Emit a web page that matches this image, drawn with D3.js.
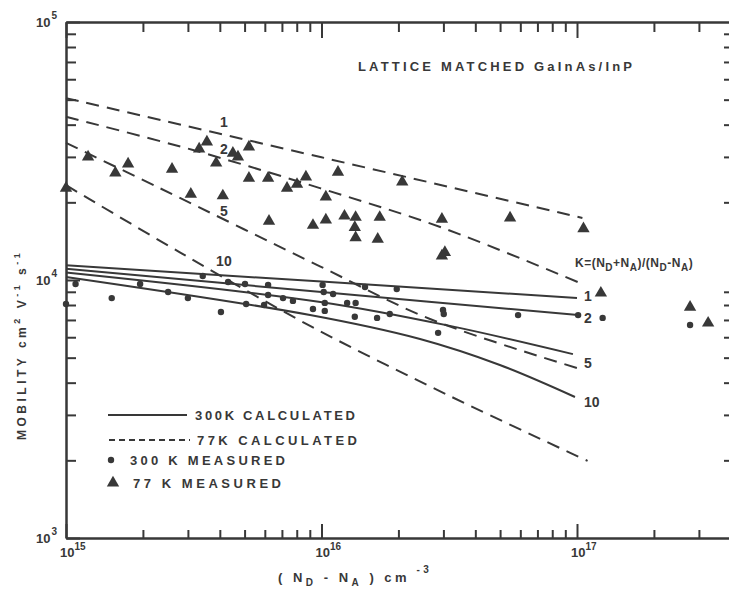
<!DOCTYPE html>
<html>
<head>
<meta charset="utf-8">
<script src="https://cdn.jsdelivr.net/npm/d3@7"></script>
<style>
body{margin:0;background:#fff;}
svg text{font-family:"Liberation Sans",Arial,sans-serif;font-weight:bold;fill:#383838;}
.axis path,.axis line{stroke:#383838;stroke-width:2;fill:none;}
.calc{fill:none;stroke:#383838;stroke-width:2;}
.k77{stroke-dasharray:13,8;}
</style>
</head>
<body>
<svg id="chart" width="729" height="590"></svg>
<script>
// K = (ND+NA)/(ND-NA) for each calculated curve
var kValues = ["1", "2", "5", "10"];

// 300 K calculated, [ND-NA (cm^-3), mobility]
var calc300K_1 = [[1e15, 11400], [1e16, 9860], [1e17, 8510]];
var calc300K_2 = [[1e15, 11050], [1e16, 8980], [1.01e17, 7310]];
var calc300K_5 = [[1e15, 10700], [9.9e15, 8220], [3.18e16, 6640], [9.64e16, 5160]];
var calc300K_10 = [[1e15, 10280], [9.02e15, 7315], [2.43e16, 5905], [4.99e16, 4683], [9.82e16, 3520]];

// 77 K calculated
var calc77K_1 = [[1e15, 50700], [1e16, 29900], [1.05e17, 17400]];
var calc77K_2 = [[1e15, 42900], [3.14e15, 31900], [9.86e15, 22700], [2.99e16, 15900], [1.03e17, 9730]];
var calc77K_5 = [[1e15, 34000], [2.33e15, 22700], [9.86e15, 11300], [2.66e16, 7060], [1.0e17, 4560]];
var calc77K_10 = [[1e15, 23300], [2.79e15, 12800], [9.02e15, 6640], [3.18e16, 3550], [1.1e17, 1990]];

// measured points
var meas300K = [[1.0e15,8070],[1.09e15,9650],[1.51e15,8510],[1.95e15,9650],[2.51e15,8980],[3.0e15,8510],
  [3.43e15,10360],[4.04e15,7520],[4.31e15,9820],[5.02e15,9650],[5.07e15,8070],[5.96e15,8000],[6.18e15,9570],
  [6.18e15,8750],[7.07e15,8510],[7.73e15,8300],[9.26e15,7720],[1.01e16,9570],[1.02e16,8980],[1.11e16,8830],
  [1.03e16,8150],[1.03e16,7590],[1.26e16,8150],[1.36e16,8150],[1.35e16,7200],[1.65e16,7130],[1.85e16,7380],
  [1.48e16,9400],[1.97e16,9220],[2.99e16,7650],[3.01e16,7380],[2.86e16,6240],[5.88e16,7310],[1.01e17,7310],
  [1.26e17,7130],[2.77e17,6690]];
var meas77K = [[1.0e15,22700],[1.22e15,30000],[1.56e15,26000],[1.75e15,28200],[2.6e15,26900],[3.08e15,21500],
  [3.32e15,32200],[3.56e15,34300],[3.87e15,28400],[4.11e15,21200],[4.5e15,31000],[4.71e15,30000],[5.2e15,32800],
  [5.2e15,24800],[6.18e15,24800],[6.23e15,16900],[7.33e15,22700],[8.02e15,23500],[8.69e15,25100],[9.26e15,16300],
  [1.04e16,21000],[1.04e16,17100],[1.16e16,26200],[1.23e16,17700],[1.36e16,17500],[1.35e16,16000],[1.36e16,14600],
  [1.69e16,17500],[1.66e16,14400],[2.07e16,24000],[2.96e16,17200],[2.96e16,12400],[3.04e16,12800],[5.47e16,17400],
  [1.06e17,15800],[1.24e17,8900],[2.77e17,7850],[3.26e17,6810]];

var xMajor = [1e15, 1e16, 1e17];
var xMajorExp = ["15", "16", "17"];
var yMajor = [1e3, 1e4, 1e5];
var yMajorExp = ["3", "4", "5"];

var svg = d3.select("#chart");
var x = d3.scaleLog().domain([1e15, 4e17]).range([66, 66 + 255.5 * Math.log10(400)]);
var y = d3.scaleLog().domain([1e3, 1e5]).range([538, 22]);

function minors(lo, hi) {
	var out = [];
	for (var d = lo; d <= hi; d++)
		for (var m = 2; m <= 9; m++) out.push(m * Math.pow(10, d));
	return out;
}
var xMin = minors(15, 17).filter(function(v){ return v < 4e17; });
var yMin = minors(3, 4);

function ax(gen, vals, size, tr) {
	svg.append("g").attr("class", "axis").attr("transform", tr)
		.call(gen.tickValues(vals).tickSizeInner(size).tickSizeOuter(0).tickFormat(""));
}
ax(d3.axisBottom(x), xMin, -8, "translate(0,538)");
ax(d3.axisBottom(x), xMajor, -14, "translate(0,538)");
ax(d3.axisTop(x), xMin, -10, "translate(0,22)");
ax(d3.axisTop(x), xMajor, -16, "translate(0,22)");
ax(d3.axisLeft(y), yMin, -10, "translate(66,0)");
ax(d3.axisLeft(y), yMajor, -14, "translate(66,0)");
ax(d3.axisRight(y), yMin, -7, "translate(731,0)");
svg.selectAll(".axis text").remove();

// power-of-ten tick labels
xMajor.forEach(function(v, i) {
	var t = svg.append("text").attr("x", x(v) - 6).attr("y", 557).attr("font-size", 13);
	t.append("tspan").text("10");
	t.append("tspan").attr("dy", -7).attr("font-size", 10).text(xMajorExp[i]);
});
yMajor.forEach(function(v, i) {
	var t = svg.append("text").attr("x", 36).attr("y", y(v) + 5).attr("font-size", 13);
	t.append("tspan").text("10");
	t.append("tspan").attr("dy", -8).attr("dx", 1).attr("font-size", 10).text(yMajorExp[i]);
});

var line = d3.line().x(function(d){ return x(d[0]); }).y(function(d){ return y(d[1]); })
	.curve(d3.curveCatmullRom.alpha(0.5));

var c300 = [calc300K_1, calc300K_2, calc300K_5, calc300K_10];
var c77 = [calc77K_1, calc77K_2, calc77K_5, calc77K_10];
c300.forEach(function(s){ svg.append("path").attr("class", "calc").attr("d", line(s)); });
c77.forEach(function(s){ svg.append("path").attr("class", "calc k77").attr("d", line(s)); });

// curve labels
var solidDy = [-2, 3, 9, 5];
c300.forEach(function(s, i) {
	var e = s[s.length - 1];
	svg.append("text").attr("x", 584).attr("y", y(e[1]) + solidDy[i] + 5)
		.attr("font-size", 14).text(kValues[i]);
});
var dashLabelN = 4.15e15;
var dashLabelMu = [40960, 32200, 18500, 11850];
dashLabelMu.forEach(function(m, i) {
	svg.append("text").attr("x", x(dashLabelN)).attr("y", y(m) + 5)
		.attr("text-anchor", "middle").attr("font-size", 14).text(kValues[i]);
});

// measured
svg.append("g").selectAll("circle").data(meas300K).enter().append("circle")
	.attr("cx", function(d){ return x(d[0]); }).attr("cy", function(d){ return y(d[1]); })
	.attr("r", 3.2).attr("fill", "#383838");
var tri = d3.symbol().type(d3.symbolTriangle).size(66);
svg.append("g").selectAll("path").data(meas77K).enter().append("path")
	.attr("d", tri).attr("fill", "#383838")
	.attr("transform", function(d){ return "translate(" + x(d[0]) + "," + y(d[1]) + ")"; });

// legend
var lg = svg.append("g");
lg.append("line").attr("x1", 108).attr("x2", 187).attr("y1", 415).attr("y2", 415).attr("class", "calc");
lg.append("line").attr("x1", 109).attr("x2", 190).attr("y1", 440).attr("y2", 440).attr("class", "calc")
	.style("stroke-dasharray", "6,4");
lg.append("circle").attr("cx", 111).attr("cy", 460).attr("r", 3.2).attr("fill", "#383838");
lg.append("path").attr("d", tri).attr("fill", "#383838").attr("transform", "translate(113,483)");
var legTxt = [["300K CALCULATED", 195, 420, 160], ["77K CALCULATED", 197, 445, 160],
	["300 K MEASURED", 130, 465, 155], ["77 K MEASURED", 133, 488, 148]];
legTxt.forEach(function(t) {
	lg.append("text").attr("x", t[1]).attr("y", t[2]).attr("font-size", 13)
		.attr("textLength", t[3]).attr("lengthAdjust", "spacing").text(t[0]);
});

// title
svg.append("text").attr("x", 358).attr("y", 71).attr("font-size", 13)
	.attr("textLength", 274).attr("lengthAdjust", "spacing").text("LATTICE MATCHED GaInAs/InP");

// K definition
var k = svg.append("text").attr("x", 575).attr("y", 267).attr("font-size", 12).style("letter-spacing", "0.5px");
k.append("tspan").text("K=(N");
k.append("tspan").attr("dy", 4).attr("font-size", 10).text("D");
k.append("tspan").attr("dy", -4).text("+N");
k.append("tspan").attr("dy", 4).attr("font-size", 10).text("A");
k.append("tspan").attr("dy", -4).text(")/(N");
k.append("tspan").attr("dy", 4).attr("font-size", 10).text("D");
k.append("tspan").attr("dy", -4).text("-N");
k.append("tspan").attr("dy", 4).attr("font-size", 10).text("A");
k.append("tspan").attr("dy", -4).text(")");

// x title
var xt = svg.append("text").attr("x", 278).attr("y", 582).attr("font-size", 13).style("letter-spacing", "3.5px");
xt.append("tspan").text("( N");
xt.append("tspan").attr("dy", 4).attr("font-size", 10).text("D");
xt.append("tspan").attr("dy", -4).text(" - N");
xt.append("tspan").attr("dy", 4).attr("font-size", 10).text("A");
xt.append("tspan").attr("dy", -4).text(" )  cm");
xt.append("tspan").attr("dy", -9).attr("font-size", 10).text(" -3");

// y title
var yt = svg.append("text").attr("transform", "translate(26,440) rotate(-90)").attr("font-size", 12)
	.style("letter-spacing", "3.5px");
yt.append("tspan").text("MOBILITY  cm");
yt.append("tspan").attr("dy", -6).attr("font-size", 9).text("2");
yt.append("tspan").attr("dy", 6).text("  V");
yt.append("tspan").attr("dy", -6).attr("font-size", 9).text("-1");
yt.append("tspan").attr("dy", 6).text("  s");
yt.append("tspan").attr("dy", -6).attr("font-size", 9).text("-1");
</script>
</body>
</html>
